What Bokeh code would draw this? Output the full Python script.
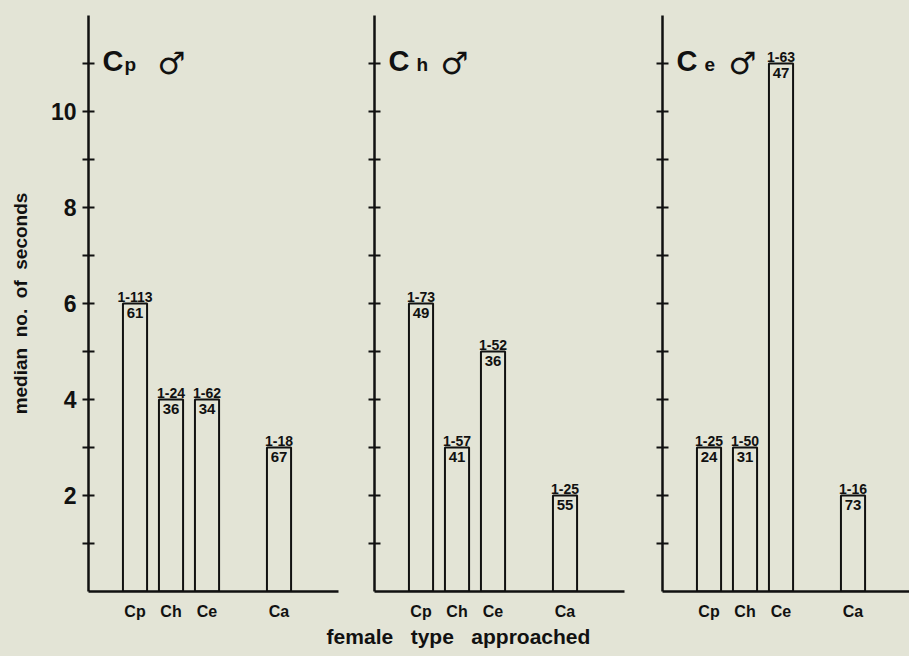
from bokeh.plotting import figure
from bokeh.models import FixedTicker, Label
from bokeh.layouts import row, column
from bokeh.core.properties import value
from bokeh.embed import file_html
from bokeh.resources import INLINE

# ---- data ----
males = ["Cp", "Ch", "Ce"]
females = ["Cp", "Ch", "Ce", "Ca"]
medians_cp = [6, 4, 4, 3]
counts_cp = [61, 36, 34, 67]
ranges_cp = ["1-113", "1-24", "1-62", "1-18"]
medians_ch = [6, 3, 5, 2]
counts_ch = [49, 41, 36, 55]
ranges_ch = ["1-73", "1-57", "1-52", "1-25"]
medians_ce = [3, 3, 11, 2]
counts_ce = [24, 31, 47, 73]
ranges_ce = ["1-25", "1-50", "1-63", "1-16"]
y_major = [2, 4, 6, 8, 10]
y_minor = [1, 3, 5, 7, 9, 11]
y_title = "median\u00a0\u00a0no.\u00a0\u00a0of\u00a0\u00a0seconds"
x_title = "female\u00a0\u00a0\u00a0type\u00a0\u00a0\u00a0approached"

panel_data = [
    (medians_cp, counts_cp, ranges_cp),
    (medians_ch, counts_ch, ranges_ch),
    (medians_ce, counts_ce, ranges_ce),
]

# ---- layout constants ----
BG = "#e3e4d6"
INK = "#111111"
FONT = "Liberation Sans"
slot = {"Cp": 1, "Ch": 2, "Ce": 3, "Ca": 5}   # gap before Ca
X0 = -0.292
UNIT = 36.0  # px per slot
FRAME_H = 576
TITLE_Y = 11.05
sub_off = [36, 42, 42]
sign_off = [69, 66, 66]

frame_w = [250, 250, 247]
border_l = [88, 24, 24]
border_r = [12, 14, 0]

figs = []
for i, (male, (med, cnt, rng)) in enumerate(zip(males, panel_data)):
    x_end = X0 + frame_w[i] / UNIT
    p = figure(frame_width=frame_w[i], frame_height=FRAME_H,
               x_range=(X0, x_end), y_range=(0, 12),
               output_backend="svg", toolbar_location=None,
               min_border_left=border_l[i], min_border_right=border_r[i],
               min_border_top=15, min_border_bottom=31)
    p.background_fill_color = BG
    p.border_fill_color = BG
    p.outline_line_color = None
    p.grid.visible = False

    xs = [slot[f] for f in females]
    p.vbar(x=xs, top=med, bottom=0, width=0.67, fill_color=None,
           line_color=INK, line_width=2)
    p.text(x=xs, y=med, text=rng, text_align="center", text_baseline="bottom",
           y_offset=-2, text_font=value(FONT), text_font_style="bold",
           text_font_size="14px", text_color=INK)
    p.text(x=xs, y=med, text=[str(c) for c in cnt], text_align="center",
           text_baseline="top", y_offset=4, text_font=value(FONT),
           text_font_style="bold", text_font_size="15px", text_color=INK)

    # y axis
    ya = p.yaxis[0]
    ya.axis_line_width = 2.5
    ya.axis_line_color = INK
    ya.major_tick_in = 6
    ya.major_tick_out = 6
    ya.minor_tick_in = 6
    ya.minor_tick_out = 6
    ya.major_tick_line_width = 2
    ya.minor_tick_line_width = 2
    ya.major_tick_line_color = INK
    ya.minor_tick_line_color = INK
    ya.major_label_text_font = FONT
    ya.major_label_text_font_style = "bold"
    ya.major_label_text_color = INK
    if i == 0:
        ya.ticker = FixedTicker(ticks=y_major, minor_ticks=y_minor)
        ya.major_label_standoff = 6
        ya.major_label_text_font_size = "23px"
        ya.axis_label = y_title
        ya.axis_label_text_font = FONT
        ya.axis_label_text_font_style = "bold"
        ya.axis_label_text_font_size = "19px"
        ya.axis_label_text_color = INK
        ya.axis_label_standoff = 17
    else:
        ya.ticker = FixedTicker(ticks=[], minor_ticks=sorted(y_major + y_minor))

    # x axis
    xa = p.xaxis[0]
    xa.ticker = FixedTicker(ticks=xs)
    xa.major_label_overrides = {slot[f]: f for f in females}
    xa.axis_line_width = 2.5
    xa.axis_line_color = INK
    xa.major_tick_in = 0
    xa.major_tick_out = 0
    xa.minor_tick_in = 0
    xa.minor_tick_out = 0
    xa.major_label_standoff = 11
    xa.major_label_text_font = FONT
    xa.major_label_text_font_style = "bold"
    xa.major_label_text_font_size = "16px"
    xa.major_label_text_color = INK

    # panel title: C + subscript letter + male sign
    p.text(x=[X0], y=[TITLE_Y], text=[male[0]], x_offset=14,
           text_font=value(FONT), text_font_style="bold",
           text_font_size="29px", text_color=INK,
           text_baseline="alphabetic", text_align="left")
    p.text(x=[X0], y=[TITLE_Y], text=[male[1]], x_offset=sub_off[i],
           y_offset=3, text_font=value(FONT), text_font_style="bold",
           text_font_size="19px", text_color=INK,
           text_baseline="alphabetic", text_align="left")
    p.text(x=[X0], y=[TITLE_Y], text=["\u2642"], x_offset=sign_off[i],
           y_offset=2, text_font=value("DejaVu Sans"), text_font_style="bold",
           text_font_size="31px", text_color=INK,
           text_baseline="alphabetic", text_align="left")
    figs.append(p)

# strip under the panels carrying the shared x title
tf = figure(width=909, height=34, x_range=(0, 909), y_range=(0, 34),
            x_axis_type=None, y_axis_type=None, min_border=0,
            output_backend="svg", toolbar_location=None)
tf.background_fill_color = BG
tf.border_fill_color = BG
tf.outline_line_color = None
tf.grid.visible = False
tf.add_layout(Label(x=458, y=20, text=x_title, text_align="center",
                    text_baseline="middle", text_font=FONT,
                    text_font_style="bold", text_font_size="21px",
                    text_color=INK))

layout = column(row(*figs, spacing=0), tf, spacing=0,
                styles={"background-color": BG})
open("out.html", "w").write(file_html(layout, INLINE))
